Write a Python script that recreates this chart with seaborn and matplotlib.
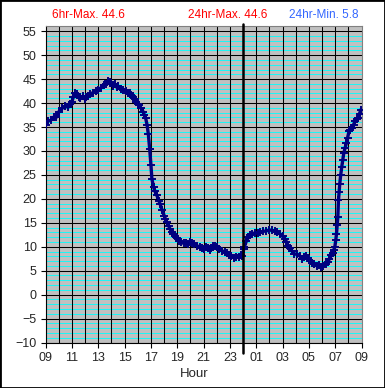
import matplotlib
matplotlib.use("Agg")
import matplotlib.pyplot as plt
import seaborn as sns
from matplotlib.patches import Rectangle

# hours after 09:00 and temperature readings
hours = [0, 0.2, 0.375, 0.625, 0.8, 1.0, 1.25, 1.5, 1.7, 1.875, 2.0, 2.1, 2.25, 2.375, 2.5,
         2.625, 2.8, 3.0, 3.1, 3.25, 3.4, 3.6, 3.8, 4.0, 4.2, 4.4, 4.6, 4.75, 4.9, 5.0,
         5.1, 5.25, 5.4, 5.5, 5.7, 5.9, 6.1, 6.25, 6.4, 6.5, 6.6, 6.75, 6.9, 7.0, 7.1,
         7.25, 7.4, 7.5, 7.6, 7.7, 7.8, 7.9, 8.0, 8.07, 8.2, 8.3, 8.45, 8.6, 8.7, 8.85,
         9.0, 9.1, 9.2, 9.35, 9.45, 9.6, 9.7, 9.85, 10.0, 10.15, 10.3, 10.5, 10.7, 10.85, 11.0,
         11.15, 11.3, 11.5, 11.7, 11.85, 12.0, 12.2, 12.3, 12.45, 12.6, 12.7, 12.85, 13.0, 13.2, 13.4,
         13.6, 13.75, 13.9, 14.1, 14.3, 14.5, 14.7, 14.85, 14.95, 15.05, 15.1, 15.25, 15.4, 15.5, 15.7,
         15.9, 16.1, 16.3, 16.5, 16.75, 17.0, 17.2, 17.4, 17.6, 17.8, 18.0, 18.2, 18.3, 18.4, 18.55,
         18.7, 18.9, 19.1, 19.3, 19.5, 19.65, 19.8, 19.95, 20.1, 20.25, 20.4, 20.6, 20.75, 20.9, 21.1,
         21.3, 21.45, 21.55, 21.7, 21.8, 21.9, 21.97, 22.05, 22.1, 22.15, 22.2, 22.25, 22.3, 22.35, 22.42,
         22.5, 22.58, 22.65, 22.75, 22.85, 22.95, 23.05, 23.15, 23.25, 23.4, 23.5, 23.65, 23.75, 23.85, 23.95]
temps = [35.5, 36.3, 36.4, 37.1, 37.0, 38.2, 38.9, 39.4, 39.1, 39.9, 40.3, 41.3, 42.0, 41.8, 41.2,
         41.0, 41.4, 40.8, 41.2, 41.5, 41.9, 42.2, 42.6, 42.7, 43.2, 43.8, 44.0, 44.6, 44.3, 44.2,
         43.6, 44.0, 43.3, 43.5, 43.0, 42.7, 42.5, 42.2, 42.0, 41.7, 41.2, 40.8, 40.3, 39.9, 39.5,
         38.9, 38.2, 37.5, 36.8, 35.5, 33.5, 30.5, 27.0, 24.2, 22.4, 21.6, 20.7, 19.6, 18.9, 17.6,
         16.5, 15.8, 15.1, 14.3, 13.7, 13.1, 12.7, 12.2, 11.8, 11.3, 10.9, 10.7, 10.8, 10.5, 11.0,
         10.8, 10.6, 10.2, 9.9, 9.7, 9.5, 10.0, 9.7, 9.3, 9.8, 10.2, 10.1, 10.0, 9.6, 9.2,
         8.8, 8.6, 8.3, 8.0, 7.7, 7.9, 7.8, 8.3, 8.0, 9.5, 10.0, 11.2, 12.0, 12.4, 12.7,
         12.9, 12.8, 13.1, 13.2, 13.3, 13.5, 13.4, 13.2, 13.0, 12.7, 12.2, 11.6, 11.0, 10.2, 9.7,
         9.2, 8.5, 8.4, 8.1, 7.4, 7.9, 8.1, 7.6, 7.0, 6.5, 6.3, 6.0, 6.1, 5.8, 6.0,
         6.3, 6.8, 7.4, 8.2, 8.7, 9.4, 9.9, 11.5, 12.7, 14.5, 16.2, 19.7, 21.5, 23.2, 25.0,
         26.7, 28.2, 29.5, 30.6, 31.6, 32.8, 34.1, 34.4, 34.8, 35.5, 36.2, 36.6, 36.9, 37.8, 38.6]

tick_hours = list(range(0, 25, 2))
tick_labels = ["%02d" % ((9 + h) % 24) for h in tick_hours]
stats = ["6hr-Max. 44.6", "24hr-Max. 44.6", "24hr-Min. 5.8"]
stat_colors = ["#FF0000", "#FF0000", "#3366FF"]

sns.set_style("white")
plt.rcParams["font.family"] = ["Liberation Sans", "DejaVu Sans"]

fig = plt.figure(figsize=(3.85, 3.88), dpi=100)
ax = fig.add_axes([45.7 / 385, 1 - 342.5 / 388, (361.5 - 45.7) / 385, (342.5 - 25.5) / 388])
ax.set_facecolor("#C0C0C0")

# grid: cyan every unit, black every 5, black every hour
ax.set_axisbelow(True)
ax.set_yticks(range(-10, 56, 5))
ax.set_yticks(range(-10, 56, 1), minor=True)
ax.grid(True, axis="y", which="minor", color="#00FFFF", lw=0.6)
ax.grid(True, axis="y", which="major", color="black", lw=0.75)
for h in range(1, 24):
    ax.axvline(h, color="black", lw=0.75, zorder=1)

sns.lineplot(x=hours, y=temps, ax=ax, color="#000080", lw=2.4, marker="+",
             markersize=5.5, markeredgewidth=1.4, markeredgecolor="#000080", zorder=3)

# midnight marker
ax.axvline(15, ymin=-0.034, ymax=1.006, color="black", lw=1.8, clip_on=False, zorder=4)

ax.set_xlim(0, 24)
ax.set_ylim(-10, 56.2)
ax.set_xticks(tick_hours)
ax.set_xticklabels(tick_labels)
ax.tick_params(axis="both", which="major", direction="out", length=3.5, width=0.8,
               color="black", labelsize=9, pad=3, left=True, bottom=True)
ax.tick_params(axis="y", which="minor", length=0)
ax.set_xlabel("")
ax.set_ylabel("")

for s in ["left", "bottom"]:
    ax.spines[s].set_color("black")
    ax.spines[s].set_linewidth(0.8)
for s in ["top", "right"]:
    ax.spines[s].set_color("#808080")
    ax.spines[s].set_linewidth(0.8)

fig.text(194 / 385, 1 - 374 / 388, "Hour", ha="center", va="center", fontsize=9.5)
for x, s, c in zip([88, 228, 324], stats, stat_colors):
    fig.text(x / 385, 1 - 15 / 388, s, ha="center", va="center", fontsize=8.5, color=c)

fig.patches.append(Rectangle((0, 0), 1, 1, transform=fig.transFigure, fill=False,
                             ec="black", lw=2))

fig.savefig("out.png", dpi=100, facecolor="white")
